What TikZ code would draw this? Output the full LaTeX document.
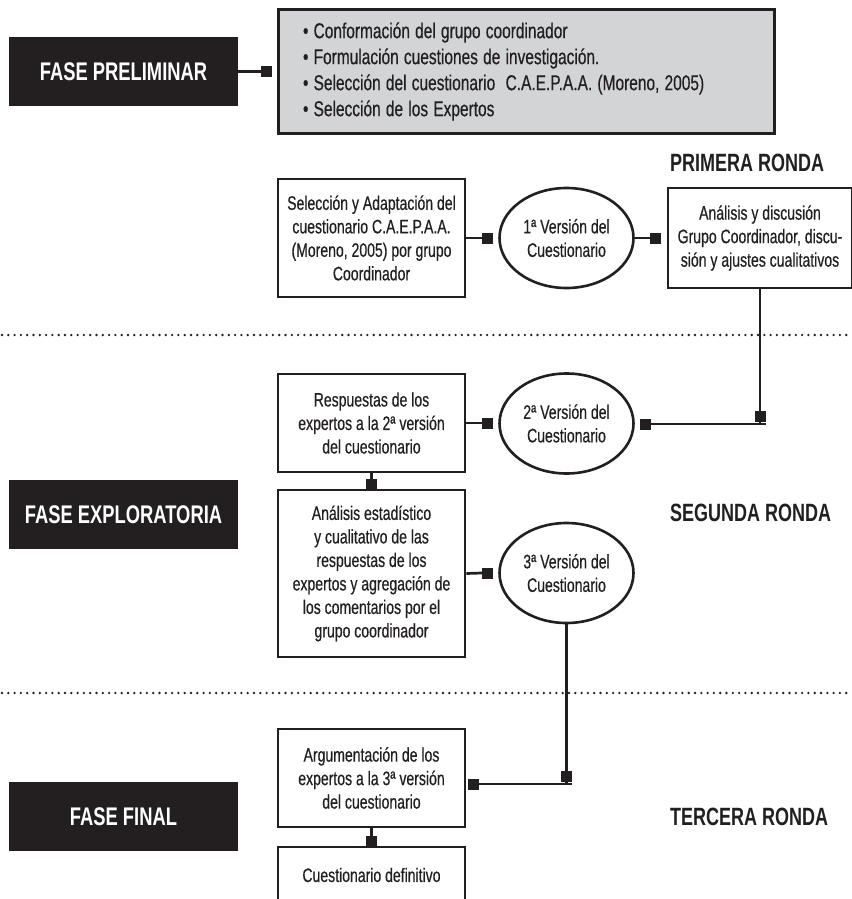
\documentclass[tikz,border=0pt]{standalone}
\usepackage{fontspec}
\setmainfont{Liberation Sans}[FakeStretch=0.72, UprightFeatures={FakeBold=0.5}]
\usetikzlibrary{shapes.geometric}
\definecolor{ink}{HTML}{231F20}
\definecolor{panel}{HTML}{D3D4D6}
\tikzset{
  phase/.style={fill=ink, text=white, font=\bfseries\fontsize{25.5}{30}\selectfont,
    minimum width=229, minimum height=69, inner sep=0},
  roundlbl/.style={anchor=west, text=ink, font=\bfseries\fontsize{25}{30}\selectfont, inner sep=0},
  panelbox/.style={draw=ink, line width=3, fill=panel, minimum width=496, minimum height=123,
    text width=446, inner xsep=25, align=left, text=ink,
    font=\fontsize{21.5}{26}\selectfont},
  stepbox/.style={draw=ink, line width=2.8, minimum width=187, align=center, inner sep=0,
    text=ink, font=\fontsize{19.5}{23.5}\selectfont},
  version/.style={ellipse, draw=ink, line width=2.6, minimum width=134, minimum height=100,
    inner sep=0, align=center, text=ink, font=\fontsize{19.5}{23.5}\selectfont},
  sq/.style={fill=ink, minimum size=11, inner sep=0},
  conn/.style={draw=ink, line width=2.7},
  dotline/.style={draw=ink, line width=2.6, line cap=round, dash pattern=on 0pt off 6.3pt}
}
\begin{document}
\begin{tikzpicture}[x=1pt, y=-1pt]
\useasboundingbox (0,0) rectangle (851,899);

% phases
\node[phase] (prelim) at (123.5,71.5) {FASE PRELIMINAR};
\node[phase] (explor) at (123.5,514.5) {FASE EXPLORATORIA};
\node[phase] (final) at (123.5,816.5) {FASE FINAL};

% preliminary panel
\node[panelbox] (panel) at (526,71.5) {\spaceskip=5.2pt plus 1pt minus 0.5pt\relax
  \textbullet\ Conformación del grupo coordinador\\
  \textbullet\ Formulación cuestiones de investigación.\\
  \textbullet\ Selección del cuestionario \ C.A.E.P.A.A. (Moreno, 2005)\\
  \textbullet\ Selección de los Expertos};
\node[sq] (s0) at (266.5,71.5) {};
\draw[conn] (prelim.east) -- (s0.west);

% round labels
\node[roundlbl] (r1) at (670,163) {PRIMERA RONDA};
\node[roundlbl] (r2) at (670,513) {SEGUNDA RONDA};
\node[roundlbl] (r3) at (670,817) {TERCERA RONDA};

% dotted separators
\coordinate (d1l) at (2,335); \coordinate (d1r) at (851,335);
\coordinate (d2l) at (2,693); \coordinate (d2r) at (851,693);
\draw[dotline] (d1l) -- (d1r);
\draw[dotline] (d2l) -- (d2r);

% first round
\node[stepbox, minimum height=118] (b1) at (371.5,238) {Selección y Adaptación del\\cuestionario C.A.E.P.A.A.\\(Moreno, 2005) por grupo\\Coordinador};
\node[version] (e1) at (566.5,238) {1ª Versión del\\Cuestionario};
\node[stepbox, minimum width=184, minimum height=100] (rb) at (760,238) {Análisis y discusión\\Grupo Coordinador, discu-\\sión y ajustes cualitativos};
\node[sq] (s1) at (487.5,238) {};
\node[sq] (s2) at (655.5,238) {};
\draw[conn] (b1.east) -- (s1.west);
\draw[conn] (e1.east) -- (s2.west);

% second round
\node[stepbox, minimum height=98] (b2) at (371.5,423) {Respuestas de los\\expertos a la 2ª versión\\del cuestionario};
\node[version] (e2) at (566.5,423.5) {2ª Versión del\\Cuestionario};
\node[sq] (s5) at (487.5,423) {};
\draw[conn] (b2.east) -- (s5.west);
\node[sq] (s4) at (645.5,424) {};
\node[sq] (s3) at (760,416.5) {};
\coordinate (c1) at (766,424);
\draw[conn] (s4.east) -- (c1);
\draw[conn] (rb.south) -- (rb.south |- c1);

\node[stepbox, minimum height=167] (b3) at (371.5,573.5) {Análisis estadístico\\y cualitativo de las\\respuestas de los\\expertos y agregación de\\los comentarios por el\\grupo coordinador};
\node[sq] (s9) at (371.5,484.5) {};
\draw[conn] (b2.south) -- (s9.north);
\node[version] (e3) at (566.5,573) {3ª Versión del\\Cuestionario};
\node[sq] (s6) at (487.5,573) {};
\draw[conn] (b3.east) -- (s6.west);

% third round
\node[stepbox, minimum height=98] (b4) at (371.5,778) {Argumentación de los\\expertos a la 3ª versión\\del cuestionario};
\node[sq] (s8) at (473.5,784) {};
\node[sq] (s7) at (566.5,776.5) {};
\coordinate (c2) at (571.5,784);
\draw[conn] (s8.east) -- (c2);
\draw[conn] (e3.south) -- (e3.south |- c2);
\node[stepbox, minimum height=56] (b5) at (371.5,875) {Cuestionario definitivo};
\node[sq] (s10) at (371.5,841.5) {};
\draw[conn] (b4.south) -- (s10.north);
\end{tikzpicture}
\end{document}
